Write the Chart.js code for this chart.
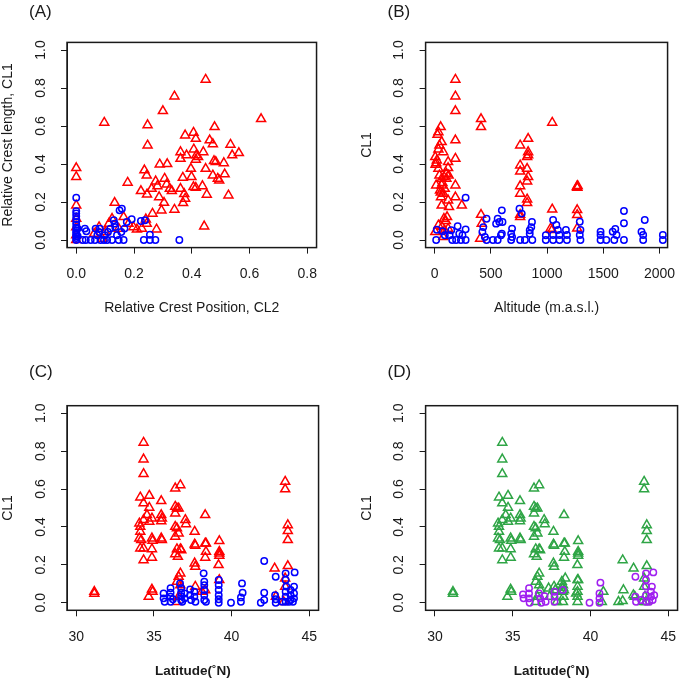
<!DOCTYPE html>
<html>
<head>
<meta charset="utf-8">
<script src="https://cdn.jsdelivr.net/npm/chart.js@4"></script>
<style>
  html, body { margin: 0; padding: 0; background: #fff; overflow: hidden; width: 685px; height: 679px; }
  canvas { position: absolute; }
</style>
</head>
<body>
<canvas id="pA"></canvas>
<canvas id="pB"></canvas>
<canvas id="pC"></canvas>
<canvas id="pD"></canvas>
<script>
// tick values / labels
const yTicks = [0, 0.2, 0.4, 0.6, 0.8, 1.0];
const yTickLabels = ["0.0", "0.2", "0.4", "0.6", "0.8", "1.0"];
const aXTicks = [0, 0.2, 0.4, 0.6, 0.8];
const aXTickLabels = ["0.0", "0.2", "0.4", "0.6", "0.8"];
const bXTicks = [0, 500, 1000, 1500, 2000];
const bXTickLabels = ["0", "500", "1000", "1500", "2000"];
const latTicks = [30, 35, 40, 45];
const latTickLabels = ["30", "35", "40", "45"];

// (A) CL2 vs CL1
const aRed = [[0.448,0.844],[0.340,0.756],[0.300,0.679],[0.097,0.618],[0.640,0.637],[0.247,0.605],[0.479,0.595],
  [0.377,0.551],[0.406,0.565],[0.414,0.533],[0.247,0.498],[0.462,0.525],[0.473,0.505],[0.534,0.502],[0.540,0.446],
  [0.563,0.458],[0.361,0.463],[0.361,0.428],[0.382,0.446],[0.407,0.477],[0.440,0.463],[0.416,0.446],[0.414,0.423],
  [0.422,0.437],[0.477,0.416],[0.483,0.411],[0.511,0.405],[0.289,0.398],[0.315,0.400],[0.397,0.375],[0.448,0.375],
  [0.473,0.340],[0.514,0.346],[0.490,0.323],[0.495,0.314],[0.527,0.235],[0.443,0.072],[0.0,0.379],[0.0,0.332],
  [0.236,0.367],[0.244,0.340],[0.275,0.309],[0.306,0.323],[0.313,0.293],[0.324,0.270],[0.331,0.258],[0.281,0.284],
  [0.261,0.270],[0.224,0.258],[0.245,0.240],[0.287,0.226],[0.304,0.196],[0.295,0.156],[0.340,0.160],[0.369,0.328],
  [0.361,0.270],[0.374,0.242],[0.370,0.195],[0.377,0.218],[0.399,0.332],[0.406,0.279],[0.414,0.275],[0.437,0.284],
  [0.452,0.239],[0.178,0.302],[0.133,0.196],[0.264,0.139],[0.241,0.109],[0.278,0.056],[0.0,0.182],[0.079,0.068],
  [0.113,0.086],[0.124,0.112],[0.164,0.121],[0.198,0.068],[0.210,0.056],[0.227,0.060],[0.244,0.086],[0.181,0.086],
  [0.147,0.060],[0.101,0.042],[0.062,0.033],[0.0,0.112],[0.0,0.068],[0.0,0.025],[0.0,0.0],[0.090,0.007]];
const aBlue = [[0,0.223],[0,0.152],[0,0.14],[0,0.125],[0,0.11],[0,0.095],[0,0.08],[0,0.065],[0,0.05],[0,0.04],
  [0,0.03],[0,0.02],[0,0.01],[0,0],[0.005,0.06],[0.005,0.02],[0.022,0],[0.03,0.06],[0.035,0.046],[0.033,0],[0.05,0],
  [0.065,0],[0.067,0.06],[0.073,0.025],[0.079,0.042],[0.082,0.06],[0.084,0],[0.096,0],[0.099,0.025],[0.107,0],
  [0.11,0.042],[0.118,0.06],[0.124,0],[0.13,0.104],[0.133,0.086],[0.135,0.068],[0.141,0.025],[0.147,0],[0.15,0.156],
  [0.158,0.165],[0.156,0.042],[0.164,0],[0.167,0.06],[0.175,0.095],[0.192,0.109],[0.224,0.1],[0.238,0.104],[0.234,0],
  [0.255,0.028],[0.255,0],[0.274,0],[0.357,0]];

// (B) altitude vs CL1
const bRed = [[185,0.844],[185,0.756],[185,0.679],[185,0.525],[185,0.428],[185,0.288],[185,0.225],[413,0.637],
  [413,0.595],[413,0.133],[54,0.595],[34,0.568],[26,0.554],[63,0.516],[43,0.498],[77,0.463],[6,0.437],[20,0.419],
  [9,0.396],[34,0.375],[120,0.411],[120,0.379],[105,0.349],[43,0.340],[63,0.323],[83,0.332],[105,0.323],[125,0.340],
  [63,0.288],[48,0.261],[77,0.244],[14,0.288],[120,0.209],[128,0.174],[63,0.182],[83,0.112],[111,0.121],[242,0.182],
  [34,0.077],[6,0.042],[120,0.060],[77,0.016],[419,0.086],[405,0.007],[57,0.226],[34,0.477],[15,0.405],[70,0.300],
  [90,0.270],[55,0.250],[100,0.100],[65,0.070],[90,0.050],
  [761,0.498],[832,0.533],[832,0.463],[823,0.437],[832,0.446],[761,0.393],[761,0.361],[823,0.375],[832,0.332],
  [823,0.309],[761,0.284],[761,0.244],[823,0.214],[823,0.195],[761,0.121],[761,0.133],[1046,0.618],[1046,0.161],
  [1031,0.060],[1265,0.280],[1272,0.285],[1270,0.275],[1268,0.158],[1268,0.132],[1268,0.061],[1045,0.053]];
const bBlue = [[276,0.223],[20,0.054],[14,0],[71,0.046],[91,0.025],[134,0.025],[157,0],[205,0.072],[219,0.033],
  [234,0],[276,0.056],[276,0],[191,0],[148,0.051],[248,0.025],[462,0.112],[433,0.068],[425,0.042],[447,0.016],
  [462,0],[519,0],[561,0.112],[576,0.095],[547,0.086],[598,0.156],[604,0.095],[598,0.033],[590,0.025],[561,0],
  [689,0.06],[681,0.033],[689,0.016],[681,0],[755,0.165],[775,0.139],[761,0],[803,0],[846,0.033],[860,0.068],
  [866,0.095],[869,0],[846,0.051],[989,0.025],[989,0],[1054,0.105],[1083,0.079],[1097,0.053],[1054,0.026],
  [1054,0],[1111,0.026],[1111,0],[1168,0.053],[1177,0.026],[1177,0],[1291,0.096],[1297,0.053],[1291,0.026],
  [1297,0],[1476,0.044],[1476,0.026],[1476,0],[1527,0],[1584,0.044],[1607,0.058],[1598,0],[1618,0.026],
  [1684,0.153],[1684,0.088],[1684,0],[1840,0.044],[1855,0.026],[1855,0],[1869,0.105],[2030,0.026],[2030,0]];

// (C) latitude vs CL1
const cRed = [[31.16,0.058],[31.16,0.048],[34.33,0.845],[34.33,0.757],[34.33,0.68],[34.12,0.556],[34.7,0.565],
  [34.33,0.525],[34.7,0.502],[35.47,0.537],[34.06,0.419],[34.12,0.401],[34.12,0.375],[34.33,0.437],[34.55,0.463],
  [34.87,0.445],[34.7,0.428],[35.47,0.463],[35.51,0.445],[35.47,0.431],[34.06,0.34],[34.18,0.331],[34.12,0.287],
  [34.33,0.287],[34.87,0.34],[34.91,0.327],[35.47,0.34],[35.51,0.331],[34.87,0.283],[34.87,0.238],[34.33,0.225],
  [34.87,0.07],[34.91,0.058],[34.66,0.032],[36.37,0.604],[36.7,0.621],[36.37,0.507],[36.48,0.498],[36.59,0.498],
  [36.37,0.472],[36.37,0.401],[36.48,0.393],[36.59,0.366],[36.37,0.349],[37.02,0.437],[37.06,0.415],[37.62,0.375],
  [38.3,0.463],[36.48,0.283],[36.7,0.283],[36.76,0.278],[36.37,0.257],[36.54,0.243],[36.7,0.155],[36.59,0.137],
  [36.48,0.111],[36.7,0.093],[36.59,0.032],[36.48,0.005],[37.62,0.308],[37.66,0.301],[37.62,0.208],[37.66,0.19],
  [38.3,0.313],[38.35,0.269],[38.3,0.238],[38.35,0.313],[38.3,0.067],[38.09,0.058],[37.66,0.085],[39.21,0.326],
  [39.21,0.269],[39.21,0.26],[39.21,0.248],[39.16,0.199],[39.21,0.12],[42.77,0.181],[43.45,0.639],[43.45,0.599],
  [43.62,0.41],[43.62,0.379],[43.62,0.331],[43.62,0.194],[43.45,0.129],[43.45,0.085],[43.35,0.005],[42.85,0.032]];
const cBlue = [[35.62,0.049],[35.62,0.023],[35.69,0.005],[36.07,0.076],[36.07,0.053],[36.07,0.032],[36.07,0.005],
  [36.22,0.018],[36.68,0.102],[36.75,0.076],[36.75,0.053],[36.75,0.035],[36.75,0.014],[36.82,0.005],[36.97,0.049],
  [36.97,0.023],[37.33,0.07],[37.33,0.04],[37.39,0.014],[37.6,0.058],[37.6,0.032],[37.67,0.005],[38.2,0.155],
  [38.24,0.111],[38.24,0.093],[38.24,0.067],[38.24,0.04],[38.24,0.014],[38.35,0.005],[39.17,0.12],[39.17,0.093],
  [39.17,0.067],[39.17,0.04],[39.17,0.018],[39.17,0],[39.96,0],[40.67,0.102],[40.71,0.053],[40.6,0.028],
  [40.6,0.005],[41.88,0],[42.1,0.053],[42.1,0.22],[42.1,0.014],[42.84,0.137],[42.8,0.04],[42.84,0.018],[42.84,0],
  [43.48,0.155],[43.48,0.12],[43.53,0.085],[43.48,0.058],[43.48,0.032],[43.48,0.005],[43.8,0.067],[43.8,0.04],
  [43.8,0.014],[44.06,0.16],[44.02,0.085],[44.02,0.049],[44.02,0.023],[43.95,0.005],[43.7,0.005],[43.27,0.005]];

// (D) same latitudes, other grouping
const dGreenExtra = [[42.07,0.225],[42.12,0.067],[42.07,0.009],[41.8,0.005],[40.83,0.058],[40.73,0.005],
  [42.76,0.04],[38.23,0.093],[38.23,0.079],[38.23,0.058],[38.27,0.032],[38.23,0.005],[38.16,0.111],[38.38,0.129],
  [39.17,0.12],[39.17,0.085],[39.17,0.058],[39.17,0.032],[39.17,0.005],[39.08,0.049],[36.77,0.067],[37.31,0.076],
  [37.37,0.032],[37.74,0.067],[37.84,0.005],[43.5,0.032],[43.57,0.005]];
const dPurple = [[35.66,0.044],[35.7,0.023],[36.05,0.076],[36.05,0.049],[36.05,0.023],[36.09,0],[36.69,0.049],
  [36.77,0.023],[36.84,0],[37.05,0.035],[37.12,0.005],[37.69,0.058],[37.69,0.032],[37.69,0.005],[38.23,0.067],
  [39.94,0],[40.64,0.106],[40.58,0.049],[40.58,0.023],[40.58,0],[42.89,0.137],[42.89,0.032],[42.93,0.005],
  [43.57,0.155],[43.57,0.12],[44.04,0.16],[43.57,0.085],[43.95,0.085],[43.89,0.058],[43.89,0.032],[43.78,0.005],
  [44.1,0.04],[44,0.014],[43.57,0.04],[43.57,0.005],[43.25,0.014]];

const FONT = '"Liberation Sans", Arial, Helvetica, sans-serif';
const RED = "#ff0000", BLUE = "#0000ff", GREEN = "#2fa546", PURPLE = "#a020f0";
const INK = "#1a1a1a";

// draws the R style box, rotated y tick labels and the panel letter
const rPlot = {
  id: "rPlot",
  afterDraw(chart, args, opts) {
    const { ctx, chartArea: a } = chart;
    const y = chart.scales.y;
    ctx.save();
    ctx.strokeStyle = INK;
    ctx.lineWidth = 1.5;
    ctx.strokeRect(a.left, a.top, a.right - a.left, a.bottom - a.top);
    ctx.fillStyle = INK;
    ctx.font = "14px " + FONT;
    ctx.textAlign = "center";
    ctx.textBaseline = "middle";
    y.ticks.forEach((t, i) => {
      ctx.save();
      ctx.translate(a.left - 26, y.getPixelForValue(t.value));
      ctx.rotate(-Math.PI / 2);
      ctx.fillText(yTickLabels[i], 0, 0);
      ctx.restore();
    });
    ctx.font = "17px " + FONT;
    ctx.textAlign = "left";
    ctx.fillText(opts.title, a.left - 38, a.top - opts.titleDy);
    ctx.restore();
  }
};

function panel(id, p) {
  const [L, T, W, H] = p.box;
  const cx = Math.floor(L - 84), cy = Math.floor(T - 60);
  const cw = Math.ceil(L + W + 10) - cx, ch = Math.ceil(T + H + 85) - cy;
  const xTitleSize = p.xBold ? 13.5 : 14;
  const xH = 61 + xTitleSize * 0.6;
  const cv = document.getElementById(id);
  cv.width = cw; cv.height = ch;
  cv.style.left = cx + "px"; cv.style.top = cy + "px";

  const tickGrid = { drawOnChartArea: false, drawTicks: true, tickLength: 6, color: INK, lineWidth: 1 };
  new Chart(cv, {
    type: "scatter",
    data: {
      datasets: p.sets.map(s => ({
        data: s.pts.map(([x, y]) => ({ x, y })),
        pointStyle: s.tri ? "triangle" : "circle",
        pointRadius: s.tri ? 5.2 : 3.2,
        pointBorderWidth: 1.5,
        borderColor: s.color,
        backgroundColor: "rgba(0,0,0,0)"
      }))
    },
    options: {
      responsive: false,
      animation: false,
      events: [],
      devicePixelRatio: 1,
      layout: { padding: { left: L - 67 - cx, top: T - cy, right: cw - (L + W - cx), bottom: ch - (T + H - cy) - xH } },
      plugins: {
        legend: { display: false },
        tooltip: { enabled: false },
        rPlot: { title: p.title, titleDy: p.titleDy }
      },
      scales: {
        x: {
          type: "linear",
          min: p.xMin, max: p.xMax,
          afterBuildTicks: s => { s.ticks = p.xTicks.map(v => ({ value: v })); },
          afterFit: s => { s.height = xH; },
          grid: tickGrid,
          border: { display: true, color: INK, width: 1 },
          ticks: { font: { family: FONT, size: 14 }, color: INK, padding: 12.6, maxRotation: 0, autoSkip: false,
                   callback: (v, i) => p.xTickLabels[i] },
          title: { display: true, text: p.xTitle, color: INK, padding: 0,
                   font: { family: FONT, size: xTitleSize, weight: p.xBold ? "bold" : "normal", lineHeight: 1.2 } }
        },
        y: {
          type: "linear",
          min: -0.04, max: 1.04,
          afterBuildTicks: s => { s.ticks = yTicks.map(v => ({ value: v })); },
          afterFit: s => { s.width = 67; },
          grid: tickGrid,
          border: { display: true, color: INK, width: 1 },
          ticks: { display: false },
          title: { display: true, text: p.yTitle, color: INK, padding: 0,
                   font: { family: FONT, size: 14, lineHeight: 1.2 } }
        }
      }
    },
    plugins: [rPlot]
  });
}

panel("pA", {
  box: [67, 42.4, 253, 205.2], title: "(A)", titleDy: 30,
  xMin: -0.032, xMax: 0.832, xTicks: aXTicks, xTickLabels: aXTickLabels,
  xTitle: "Relative Crest Position, CL2", yTitle: "Relative Crest length, CL1",
  sets: [{ pts: aBlue, color: BLUE }, { pts: aRed, color: RED, tri: true }]
});
panel("pB", {
  box: [425.6, 42.4, 252, 205.2], title: "(B)", titleDy: 30,
  xMin: -80, xMax: 2072, xTicks: bXTicks, xTickLabels: bXTickLabels,
  xTitle: "Altitude (m.a.s.l.)", yTitle: "CL1",
  sets: [{ pts: bBlue, color: BLUE }, { pts: bRed, color: RED, tri: true }]
});
panel("pC", {
  box: [67, 405.7, 253, 204.6], title: "(C)", titleDy: 33,
  xMin: 29.4, xMax: 45.6, xTicks: latTicks, xTickLabels: latTickLabels,
  xTitle: "Latitude(˚N)", xBold: true, yTitle: "CL1",
  sets: [{ pts: cBlue, color: BLUE }, { pts: cRed, color: RED, tri: true }]
});
panel("pD", {
  box: [425.6, 405.7, 253, 204.6], title: "(D)", titleDy: 33,
  xMin: 29.4, xMax: 45.6, xTicks: latTicks, xTickLabels: latTickLabels,
  xTitle: "Latitude(˚N)", xBold: true, yTitle: "CL1",
  sets: [{ pts: dPurple, color: PURPLE }, { pts: cRed.concat(dGreenExtra), color: GREEN, tri: true }]
});
</script>
</body>
</html>
